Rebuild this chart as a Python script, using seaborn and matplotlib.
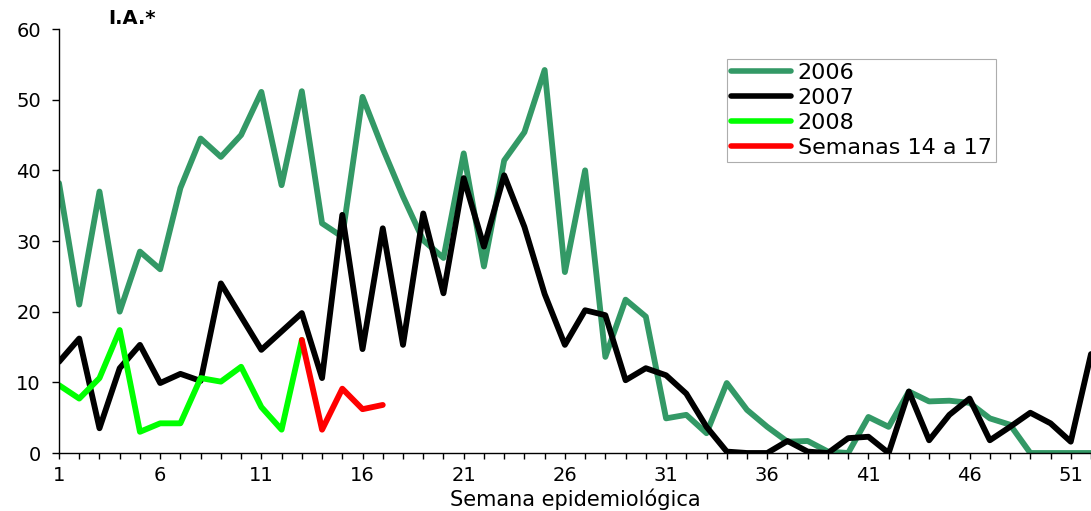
import numpy as np
import pandas as pd
import matplotlib.pyplot as plt
import seaborn as sns

# ---- data ----
semanas = list(range(1, 53))
ia_2006 = [38.2, 21.0, 37.0, 20.0, 28.5, 26.0, 37.5, 44.5, 41.9, 45.0,
           51.1, 37.9, 51.2, 32.5, 30.6, 50.4, 43.1, 36.3, 30.1, 27.6,
           42.4, 26.4, 41.4, 45.4, 54.2, 25.6, 40.0, 13.6, 21.7, 19.3,
           4.9, 5.4, 2.8, 9.9, 6.1, 3.7, 1.6, 1.7, 0.2, 0.0,
           5.1, 3.7, 8.7, 7.3, 7.4, 7.1, 4.9, 4.0, 0.0, 0.0,
           0.0, 0.0]
ia_2007 = [12.9, 16.2, 3.5, 12.0, 15.3, 9.9, 11.2, 10.2, 24.0, 19.3,
           14.6, 17.2, 19.8, 10.6, 33.7, 14.7, 31.8, 15.3, 33.9, 22.6,
           38.9, 29.2, 39.3, 32.0, 22.5, 15.3, 20.2, 19.5, 10.3, 12.0,
           11.0, 8.4, 3.7, 0.2, 0.0, 0.0, 1.7, 0.2, 0.0, 2.1,
           2.3, 0.0, 8.7, 1.8, 5.4, 7.7, 1.8, 3.7, 5.7, 4.2,
           1.6, 14.0]
semanas_2008 = list(range(1, 14))
ia_2008 = [9.6, 7.7, 10.6, 17.4, 3.0, 4.2, 4.2, 10.6, 10.1, 12.2, 6.5, 3.3, 16.0]
semanas_14_17 = [13, 14, 15, 16, 17]
ia_14_17 = [16.0, 3.3, 9.1, 6.2, 6.8]

series = ['2006', '2007', '2008', 'Semanas 14 a 17']
colores = ['#339966', '#000000', '#00ff00', '#ff0000']

df = pd.concat([
    pd.DataFrame({'semana': semanas, 'ia': ia_2006, 'serie': '2006'}),
    pd.DataFrame({'semana': semanas, 'ia': ia_2007, 'serie': '2007'}),
    pd.DataFrame({'semana': semanas_2008, 'ia': ia_2008, 'serie': '2008'}),
    pd.DataFrame({'semana': semanas_14_17, 'ia': ia_14_17, 'serie': 'Semanas 14 a 17'}),
], ignore_index=True)

# ---- plot ----
sns.set_style('white')
plt.rcParams['font.family'] = ['DejaVu Sans']
plt.rcParams['text.color'] = 'black'
plt.rcParams['axes.labelcolor'] = 'black'
plt.rcParams['xtick.color'] = 'black'
plt.rcParams['ytick.color'] = 'black'

fig = plt.figure(figsize=(10.91, 5.11), dpi=100)
ax = fig.add_axes([59 / 1091, 58 / 511, 1 - 59 / 1091, 424 / 511])

sns.lineplot(data=df, x='semana', y='ia', hue='serie', hue_order=series,
             palette=colores, linewidth=4.2, ax=ax, estimator=None,
             solid_joinstyle='round', solid_capstyle='round')

ax.set_xlim(1, 51.69)
ax.set_ylim(0, 60)
ax.set_xticks(np.arange(1, 52, 5))
ax.set_xticks(np.arange(1, 53, 1), minor=True)
ax.set_yticks(np.arange(0, 61, 10))
ax.tick_params(axis='x', which='both', direction='out', length=4, width=1,
               color='black', bottom=True, labelsize=14, pad=5)
ax.tick_params(axis='y', direction='out', length=5, width=1, color='black',
               left=True, labelsize=14, pad=8)

for s in ['top', 'right']:
    ax.spines[s].set_visible(False)
for s in ['left', 'bottom']:
    ax.spines[s].set_color('black')
    ax.spines[s].set_linewidth(1)

ax.set_xlabel('Semana epidemiológica', fontsize=15, labelpad=3)
ax.set_ylabel('')
fig.text(108 / 1091, 1 - 18 / 511, 'I.A.*', fontsize=14, fontweight='bold',
         ha='left', va='center')

leg = ax.legend(loc='upper left', bbox_to_anchor=(727 / 1091, 1 - 59 / 511),
                bbox_transform=fig.transFigure, frameon=True, fancybox=False,
                fontsize=16, handlelength=2.7, handletextpad=0.3,
                labelspacing=0.22, borderpad=0.18, borderaxespad=0)
leg.get_frame().set_edgecolor('#999999')
leg.get_frame().set_linewidth(0.8)
for line in leg.get_lines():
    line.set_linewidth(4)

fig.savefig('out.png', dpi=100)
